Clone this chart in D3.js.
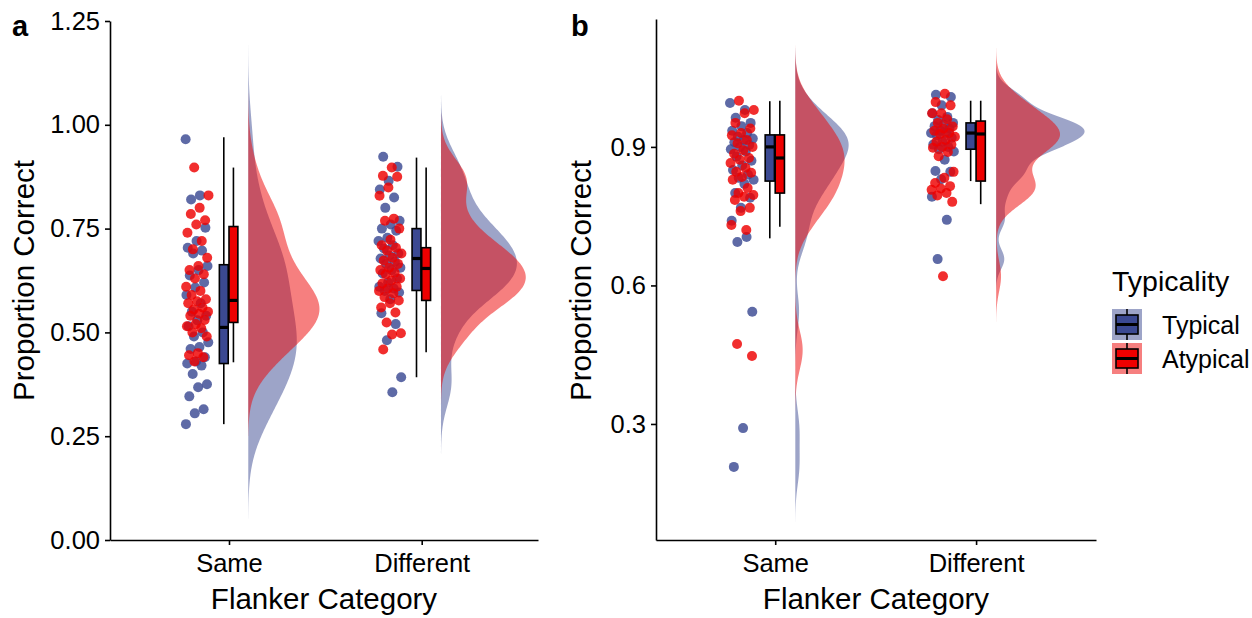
<!DOCTYPE html>
<html>
<head>
<meta charset="utf-8">
<script src="https://cdn.jsdelivr.net/npm/d3@7"></script>
<style>
  body { margin: 0; background: #fff; }
  text { font-family: "Liberation Sans", Arial, sans-serif; fill: #000; }
</style>
</head>
<body>
<script>
/***** Data *****/
var categories = ["Same", "Different"];
var groups = ["Typical", "Atypical"];
var groupColors = ["#3B4992", "#EE0000"];

// panel a : proportion correct per participant
var aSameTypical = [0.965, 0.83, 0.82, 0.752, 0.72, 0.704, 0.697, 0.69, 0.66, 0.65, 0.637, 0.62,
  0.608, 0.59, 0.57, 0.55, 0.54, 0.529, 0.515, 0.50, 0.49, 0.476, 0.465, 0.46, 0.44, 0.43,
  0.425, 0.42, 0.40, 0.375, 0.368, 0.346, 0.315, 0.305, 0.279];
var aSameAtypical = [0.897, 0.83, 0.80, 0.785, 0.77, 0.76, 0.74, 0.72, 0.70, 0.68, 0.66,
  0.65, 0.64, 0.63, 0.61, 0.60, 0.59, 0.58, 0.575, 0.57, 0.56, 0.555, 0.55, 0.545, 0.54, 0.53,
  0.52, 0.515, 0.51, 0.50, 0.49, 0.45, 0.445, 0.44, 0.43];
var aDiffTypical = [0.923, 0.899, 0.865, 0.844, 0.825, 0.80, 0.769, 0.76, 0.75, 0.745, 0.728,
  0.72, 0.71, 0.702, 0.69, 0.685, 0.678, 0.67, 0.665, 0.656, 0.65, 0.642, 0.63, 0.62, 0.61,
  0.606, 0.60, 0.596, 0.58, 0.546, 0.52, 0.481, 0.392, 0.356];
var aDiffAtypical = [0.897, 0.877, 0.875, 0.849, 0.829, 0.774, 0.769, 0.75, 0.723, 0.71, 0.704,
  0.697, 0.69, 0.68, 0.673, 0.665, 0.656, 0.65, 0.644, 0.64, 0.63, 0.625, 0.618, 0.61, 0.606,
  0.60, 0.594, 0.585, 0.577, 0.57, 0.56, 0.548, 0.524, 0.498, 0.495, 0.459];

// panel b
var bSameTypical = [0.995, 0.98, 0.963, 0.952, 0.945, 0.935, 0.93, 0.922, 0.918, 0.915, 0.91,
  0.904, 0.90, 0.895, 0.89, 0.879, 0.87, 0.86, 0.85, 0.84, 0.833, 0.829, 0.82, 0.80, 0.79,
  0.768, 0.74, 0.705, 0.694, 0.543, 0.291, 0.207];
var bSameAtypical = [1.0, 0.98, 0.973, 0.952, 0.94, 0.93, 0.925, 0.915, 0.908, 0.90, 0.893,
  0.885, 0.876, 0.872, 0.865, 0.855, 0.846, 0.844, 0.835, 0.829, 0.811, 0.80, 0.796, 0.792,
  0.785, 0.768, 0.761, 0.731, 0.72, 0.473, 0.447];
var bDiffTypical = [1.013, 1.008, 0.99, 0.973, 0.965, 0.958, 0.952, 0.948, 0.945, 0.94, 0.935,
  0.93, 0.93, 0.925, 0.92, 0.911, 0.905, 0.90, 0.895, 0.89, 0.872, 0.848, 0.846, 0.83, 0.792,
  0.742, 0.657];
var bDiffAtypical = [1.015, 0.997, 0.99, 0.973, 0.973, 0.96, 0.952, 0.944, 0.94, 0.935, 0.93,
  0.928, 0.922, 0.915, 0.911, 0.905, 0.90, 0.898, 0.889, 0.88, 0.846, 0.833, 0.822, 0.815,
  0.81, 0.807, 0.80, 0.795, 0.781, 0.62];

// boxplot summaries [lower whisker, Q1, median, Q3, upper whisker] for Same, Different
var aBoxTypical = [[0.279, 0.425, 0.512, 0.663, 0.97], [0.392, 0.601, 0.678, 0.75, 0.921]];
var aBoxAtypical = [[0.428, 0.524, 0.577, 0.755, 0.897], [0.452, 0.577, 0.654, 0.704, 0.897]];
var bBoxTypical = [[0.702, 0.826, 0.90, 0.926, 0.999], [0.826, 0.895, 0.93, 0.952, 1.0]];
var bBoxAtypical = [[0.727, 0.80, 0.876, 0.926, 1.0], [0.776, 0.826, 0.928, 0.956, 1.0]];

var aTicks = [0, 0.25, 0.5, 0.75, 1.0, 1.25];
var bTicks = [0.3, 0.6, 0.9];

(function (d3) {
  "use strict";

  var svg = d3.select("body").append("svg")
      .attr("width", 1252)
      .attr("height", 618);

  /***** Density (gaussian kernel, cut = 3 bandwidths) *****/
  function kde(values, bw) {
    var v = values.slice().sort(d3.ascending);
    var n = v.length;
    var lo = v[0] - 3 * bw, hi = v[n - 1] + 3 * bw;
    var pts = [];
    for (var k = 0; k <= 300; k++) {
      var t = lo + (hi - lo) * k / 300;
      var s = 0;
      for (var j = 0; j < n; j++) {
        var u = (t - v[j]) / bw;
        s += Math.exp(-0.5 * u * u);
      }
      pts.push([t, s / (n * bw * Math.sqrt(2 * Math.PI))]);
    }
    return pts;
  }

  function drawPanel(p) {
    var g = svg.append("g");
    var x = d3.scaleLinear().domain(p.xLimits).range([p.left, p.right]);
    var y = d3.scaleLinear().domain(p.yLimits).range([540, p.top]);

    var dens = p.series.map(function (s, gi) {
      return s.map(function (vals, ci) { return kde(vals, p.bw[gi][ci]); });
    });
    var maxD = d3.max(dens, function (grp) {
      return d3.max(grp, function (c) { return d3.max(c, function (d) { return d[1]; }); });
    });
    var wScale = d3.scaleLinear().domain([0, maxD]).range([0, x(1.44) - x(1)]);

    // half violins
    groups.forEach(function (grp, gi) {
      categories.forEach(function (cat, ci) {
        var base = x(ci + 1 + 0.1);
        var area = d3.area()
            .y(function (d) { return y(d[0]); })
            .x0(base)
            .x1(function (d) { return base + wScale(d[1]); });
        g.append("path")
            .attr("d", area(dens[gi][ci]))
            .attr("fill", groupColors[gi])
            .attr("fill-opacity", 0.5);
      });
    });

    // jittered points
    groups.forEach(function (grp, gi) {
      categories.forEach(function (cat, ci) {
        var vals = p.series[gi][ci];
        g.selectAll(null)
            .data(vals)
            .enter().append("circle")
            .attr("cx", function (d, i) {
              var f = (i * 0.618034 + gi * 0.37 + ci * 0.21) % 1;
              return x(ci + 1 - 0.165 + (f - 0.5) * 0.12);
            })
            .attr("cy", function (d) { return y(d); })
            .attr("r", 5)
            .attr("fill", groupColors[gi])
            .attr("fill-opacity", 0.82);
      });
    });

    // boxplots
    var boxOffsets = [-0.027, 0.023];
    var half = 0.023;
    groups.forEach(function (grp, gi) {
      p.boxes[gi].forEach(function (b, ci) {
        var cx = x(ci + 1 + boxOffsets[gi]);
        var x0 = x(ci + 1 + boxOffsets[gi] - half);
        var x1 = x(ci + 1 + boxOffsets[gi] + half);
        g.append("line").attr("x1", cx).attr("x2", cx)
            .attr("y1", y(b[0])).attr("y2", y(b[1]))
            .attr("stroke", "#000").attr("stroke-width", 1.6);
        g.append("line").attr("x1", cx).attr("x2", cx)
            .attr("y1", y(b[3])).attr("y2", y(b[4]))
            .attr("stroke", "#000").attr("stroke-width", 1.6);
        g.append("rect")
            .attr("x", x0).attr("width", x1 - x0)
            .attr("y", y(b[3])).attr("height", y(b[1]) - y(b[3]))
            .attr("fill", groupColors[gi])
            .attr("stroke", "#000").attr("stroke-width", 1.6);
        g.append("line").attr("x1", x0).attr("x2", x1)
            .attr("y1", y(b[2])).attr("y2", y(b[2]))
            .attr("stroke", "#000").attr("stroke-width", 3.2);
      });
    });

    // axes
    var yAxis = d3.axisLeft(y).tickValues(p.ticks).tickFormat(d3.format(p.fmt))
        .tickSize(5).tickSizeOuter(0).tickPadding(5);
    var xAxis = d3.axisBottom(x).tickValues([1, 2])
        .tickFormat(function (d) { return categories[d - 1]; })
        .tickSize(5).tickSizeOuter(0).tickPadding(9);

    var ya = g.append("g").attr("transform", "translate(" + p.left + ",0)").call(yAxis);
    var xa = g.append("g").attr("transform", "translate(0,540)").call(xAxis);
    [ya, xa].forEach(function (a) {
      a.selectAll("path, line").attr("stroke", "#000").attr("stroke-width", 1.6);
      a.selectAll("text").attr("font-size", 25.5).attr("fill", "#000")
          .style("font-family", "'Liberation Sans', Arial, sans-serif");
    });

    g.append("text")
        .attr("transform", "translate(" + p.yTitleX + ",280.5) rotate(-90)")
        .attr("text-anchor", "middle")
        .attr("font-size", 29.5)
        .text("Proportion Correct");
    g.append("text")
        .attr("x", (p.left + p.right) / 2).attr("y", 609)
        .attr("text-anchor", "middle")
        .attr("font-size", 29.5)
        .text("Flanker Category");
    g.append("text")
        .attr("x", p.tagX).attr("y", 36)
        .attr("font-size", 29).attr("font-weight", "bold")
        .text(p.tag);
  }

  drawPanel({
    tag: "a", tagX: 12,
    left: 110, right: 538, top: 21,
    xLimits: [0.3825, 2.6035], yLimits: [0, 1.25],
    ticks: aTicks, fmt: ".2f", yTitleX: 34,
    bw: [[0.076, 0.05], [0.06, 0.044]],
    series: [[aSameTypical, aDiffTypical], [aSameAtypical, aDiffAtypical]],
    boxes: [aBoxTypical, aBoxAtypical]
  });

  drawPanel({
    tag: "b", tagX: 571,
    left: 656, right: 1096, top: 19,
    xLimits: [0.4065, 2.597], yLimits: [0.0487, 1.177],
    ticks: bTicks, fmt: ".1f", yTitleX: 591,
    bw: [[0.04, 0.022], [0.04, 0.033]],
    series: [[bSameTypical, bDiffTypical], [bSameAtypical, bDiffAtypical]],
    boxes: [bBoxTypical, bBoxAtypical]
  });

  /***** Legend *****/
  var legend = svg.append("g").attr("transform", "translate(1112,0)");
  legend.append("text").attr("x", 0).attr("y", 291).attr("font-size", 28.5).text("Typicality");
  groups.forEach(function (grp, gi) {
    var top = 309 + gi * 34;
    legend.append("rect").attr("x", 0).attr("y", top).attr("width", 30).attr("height", 31)
        .attr("fill", groupColors[gi]).attr("fill-opacity", 0.5);
    legend.append("line").attr("x1", 15).attr("x2", 15).attr("y1", top).attr("y2", top + 31)
        .attr("stroke", "#000").attr("stroke-width", 1.6);
    legend.append("rect").attr("x", 4).attr("y", top + 6).attr("width", 22).attr("height", 19)
        .attr("fill", groupColors[gi]).attr("stroke", "#000").attr("stroke-width", 1.6);
    legend.append("line").attr("x1", 4).attr("x2", 26).attr("y1", top + 15.5).attr("y2", top + 15.5)
        .attr("stroke", "#000").attr("stroke-width", 3);
    legend.append("text").attr("x", 50).attr("y", top + 25).attr("font-size", 25).text(grp);
  });
})(d3);
</script>
</body>
</html>
